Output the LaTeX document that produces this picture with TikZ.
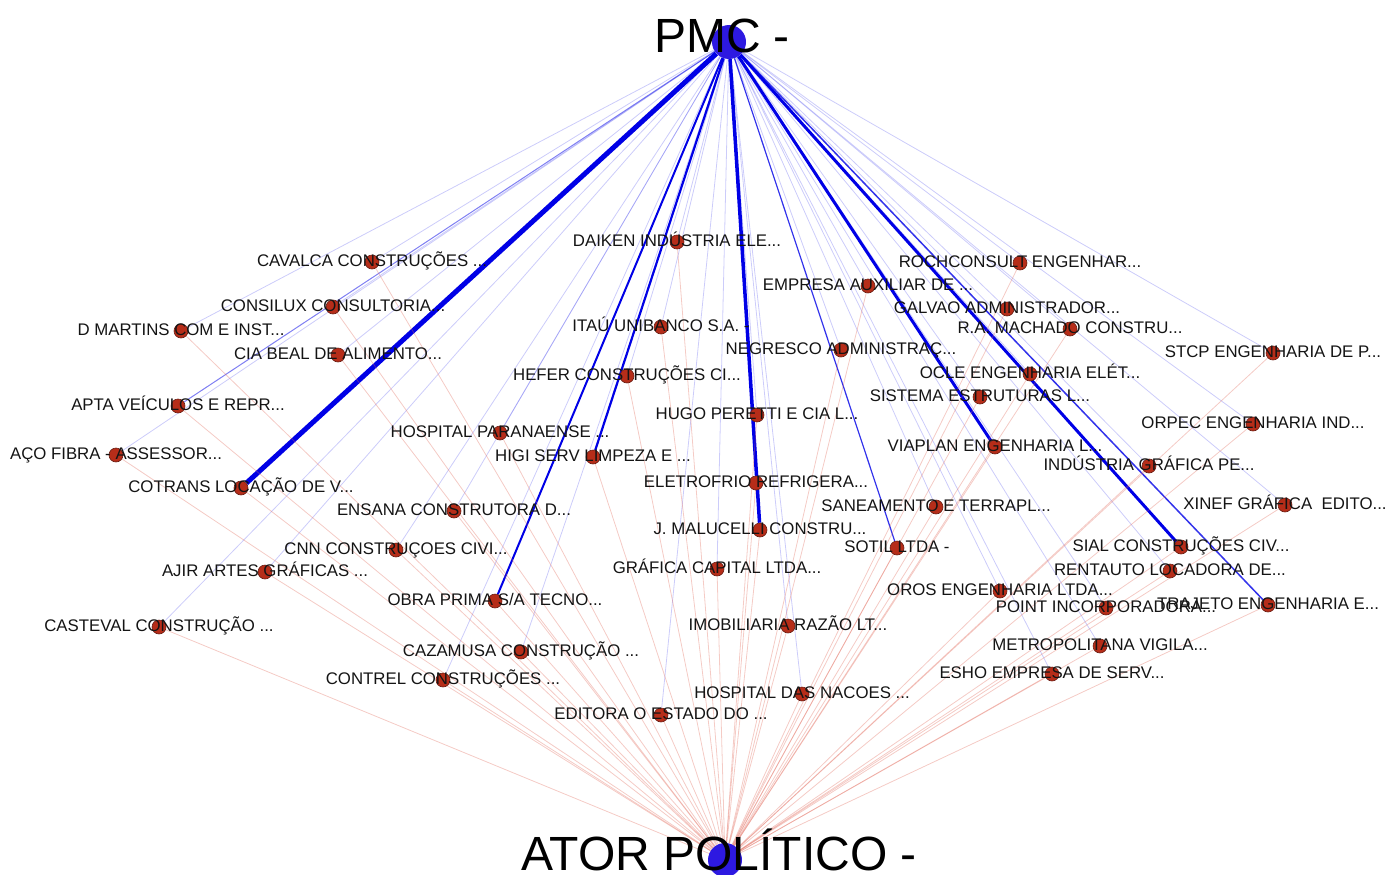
\documentclass[tikz,border=0pt]{standalone}
\usepackage{fontspec}
\setmainfont{Liberation Sans}
\usepackage{xcolor}
\usepackage{tikz}
\pgfdeclarelayer{bg}
\pgfsetlayers{bg,main}
\definecolor{nodered}{RGB}{182,45,25}
\definecolor{noderim}{RGB}{105,30,20}
\definecolor{hubblue}{RGB}{45,25,225}
\definecolor{linkblue}{RGB}{0,0,230}
\definecolor{linkred}{RGB}{225,105,90}

\begin{document}
\begin{tikzpicture}[x=1pt,y=-1pt,
  co/.style={shape=circle,fill=nodered,draw=noderim,line width=0.6pt,inner sep=0pt,minimum size=14pt},
  hub/.style={shape=circle,fill=hubblue,inner sep=0pt,minimum size=34pt},
  lbl/.style={font=\fontsize{16.8}{18}\selectfont,text=black!92,text height=12pt,text depth=0pt,inner sep=0pt,yshift=1.5pt},
  big/.style={font=\fontsize{48}{50}\selectfont,text height=35pt,text depth=0pt,inner sep=0pt},
  pe/.style={draw=linkblue,draw opacity=0.2,line width=0.8pt},
  ae/.style={draw=linkred,draw opacity=0.35,line width=0.8pt},
  wt/.style={draw=linkblue,line width=#1}]
\useasboundingbox (0,0) rectangle (1397,875);
\node[hub] (1) at (729,42) {};
\node[hub] (2) at (725,860) {};
\node[big] (pmc) at (722,35) {PMC -};
\node[big] (ator) at (719,853) {ATOR POLÍTICO -};
%left side
\node[co,label={[lbl]center:CAVALCA CONSTRUÇÕES ...}] (3) at (372,262) {};
\node[co,label={[lbl]center:CONSILUX CONSULTORIA...}] (4) at (333,307) {};
\node[co,label={[lbl]center:D MARTINS COM E INST...}] (5) at (181,331) {};
\node[co,label={[lbl]center:CIA BEAL DE ALIMENTO...}] (6) at (338,355) {};
\node[co,label={[lbl]center:APTA VEÍCULOS E REPR...}] (7) at (178,406) {};
\node[co,label={[lbl]center:AÇO FIBRA - ASSESSOR...}] (8) at (116,455) {};
\node[co,label={[lbl]center:COTRANS LOCAÇÃO DE V...}] (9) at (241,488) {};
\node[co,label={[lbl]center:ENSANA CONSTRUTORA D...}] (10) at (454,511) {};
\node[co,label={[lbl]center:CNN CONSTRUÇOES CIVI...}] (11) at (396,550) {};
\node[co,label={[lbl]center:AJIR ARTES GRÁFICAS ...}] (12) at (265,572) {};
\node[co,label={[lbl]center:CASTEVAL CONSTRUÇÃO ...}] (13) at (159,627) {};
\node[co,label={[lbl]center:HOSPITAL PARANAENSE ...}] (14) at (500,433) {};
\node[co,label={[lbl]center:HIGI SERV LIMPEZA E ...}] (15) at (593,457) {};
\node[co,label={[lbl]center:OBRA PRIMA S/A TECNO...}] (16) at (495,601) {};
\node[co,label={[lbl]center:CAZAMUSA CONSTRUÇÃO ...}] (17) at (521,652) {};
\node[co,label={[lbl]center:CONTREL CONSTRUÇÕES ...}] (18) at (443,680) {};
%middle
\node[co,label={[lbl]center:EDITORA O ESTADO DO ...}] (19) at (661,715) {};
\node[co,label={[lbl]center:DAIKEN INDÚSTRIA ELE...}] (20) at (677,242) {};
\node[co,label={[lbl]center:ITAÚ UNIBANCO S.A. -}] (21) at (661,327) {};
\node[co,label={[lbl]center:HEFER CONSTRUÇÕES CI...}] (22) at (627,376) {};
\node[co,label={[lbl]center:HUGO PERETTI E CIA L...}] (23) at (757,415) {};
\node[co,label={[lbl]center:ELETROFRIO REFRIGERA...}] (24) at (756,483) {};
\node[co,label={[lbl]center:J. MALUCELLI CONSTRU...}] (25) at (760,530) {};
\node[co,label={[lbl]center:GRÁFICA CAPITAL LTDA...}] (26) at (717,569) {};
\node[co,label={[lbl]center:IMOBILIARIA RAZÃO LT...}] (27) at (788,626) {};
\node[co,label={[lbl]center:HOSPITAL DAS NACOES ...}] (28) at (802,694) {};
\node[co,label={[lbl]center:EMPRESA AUXILIAR DE ...}] (29) at (868,286) {};
\node[co,label={[lbl]center:NEGRESCO ADMINISTRAÇ...}] (30) at (841,350) {};
%right side
\node[co,label={[lbl]center:ROCHCONSULT ENGENHAR...}] (31) at (1020,263) {};
\node[co,label={[lbl]center:GALVAO ADMINISTRADOR...}] (32) at (1007,309) {};
\node[co,label={[lbl]center:R.A. MACHADO CONSTRU...}] (33) at (1070,329) {};
\node[co,label={[lbl]center:STCP ENGENHARIA DE P...}] (34) at (1273,353) {};
\node[co,label={[lbl]center:OCLE ENGENHARIA ELÉT...}] (35) at (1030,374) {};
\node[co,label={[lbl]center:SISTEMA ESTRUTURAS L...}] (36) at (980,397) {};
\node[co,label={[lbl]center:ORPEC ENGENHARIA IND...}] (37) at (1253,424) {};
\node[co,label={[lbl]center:VIAPLAN ENGENHARIA L...}] (38) at (995,447) {};
\node[co,label={[lbl]center:INDÚSTRIA GRÁFICA PE...}] (39) at (1149,466) {};
\node[co,label={[lbl]center:XINEF GRÁFICA\ \ EDITO...}] (40) at (1285,505) {};
\node[co,label={[lbl]center:SANEAMENTO E TERRAPL...}] (41) at (936,507) {};
\node[co,label={[lbl]center:SOTIL LTDA -}] (42) at (897,548) {};
\node[co,label={[lbl]center:SIAL CONSTRUÇÕES CIV...}] (43) at (1181,547) {};
\node[co,label={[lbl]center:RENTAUTO LOCADORA DE...}] (44) at (1170,571) {};
\node[co,label={[lbl]center:OROS ENGENHARIA LTDA...}] (45) at (1000,591) {};
\node[co,label={[lbl]center:POINT INCORPORADORA...}] (46) at (1106,608) {};
\node[co,label={[lbl]center:TRAJETO ENGENHARIA E...}] (47) at (1268,605) {};
\node[co,label={[lbl]center:METROPOLITANA VIGILA...}] (48) at (1100,646) {};
\node[co,label={[lbl]center:ESHO EMPRESA DE SERV...}] (49) at (1052,674) {};
\begin{pgfonlayer}{bg}
%contratos
\path[pe] (1) edge (3) edge (4) edge (5) edge (6) edge (8) edge (10) edge (11) edge (12) edge (13) edge (14) edge (17) edge (18);
\path[pe] (1) edge (19) edge (20) edge (21) edge (22) edge (23) edge (24) edge (26) edge (27) edge (28) edge (29) edge (30);
\path[pe] (1) edge (31) edge (32) edge (33) edge (34) edge (35) edge (36) edge (37) edge (39) edge (40) edge (41);
\path[pe] (1) edge (44) edge (45) edge (46) edge (48) edge (49);
\path (1) edge[wt=5pt] (9);
\path (1) edge[wt=3.5pt] (25);
\path (1) edge[wt=3pt] (38);
\path (1) edge[wt=3pt] (43);
\path (1) edge[wt=2.2pt] (15);
\path (1) edge[wt=2pt] (16);
\path (1) edge[wt=1.5pt,draw opacity=0.8] (47);
\path (1) edge[wt=1.2pt,draw opacity=0.8] (42);
\path (1) edge[wt=1pt,draw opacity=0.5] (7);
%doacoes
\path[ae] (2) edge (3) edge (4) edge (5) edge (6) edge (7) edge (8) edge (9) edge (10) edge (11) edge (12) edge (13) edge (14) edge (15) edge (16);
\path[ae] (2) edge (17) edge (18) edge (19) edge (20) edge (21) edge (22) edge (23) edge (24) edge (25) edge (26) edge (27) edge (28) edge (29) edge (30);
\path[ae] (2) edge (31) edge (32) edge (33) edge (34) edge (35) edge (36) edge (37) edge (38) edge (39) edge (40) edge (41) edge (42) edge (43);
\path[ae] (2) edge (44) edge (45) edge (46) edge (47) edge (48) edge (49);
\end{pgfonlayer}
\end{tikzpicture}
\end{document}
